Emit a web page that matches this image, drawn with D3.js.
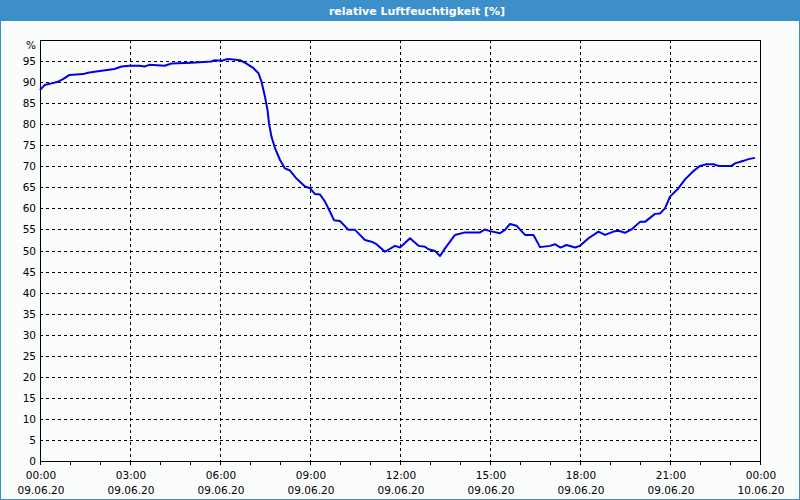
<!DOCTYPE html>
<html>
<head>
<meta charset="utf-8">
<script src="https://cdn.jsdelivr.net/npm/d3@7"></script>
<style>
  html, body { margin: 0; padding: 0; background: #fbfdfc; }
  svg { display: block; }
  text { font-family: "DejaVu Sans", Verdana, sans-serif; }
</style>
</head>
<body>
<svg id="chart" width="800" height="500"></svg>
<script>
// ---- data ----
const chartTitle = "relative Luftfeuchtigkeit [%]";
const unitLabel = "%";
const startDate = "2020-06-09T00:00";
const endDate = "2020-06-10T00:00";
// minutes after 09.06.20 00:00
const minutes = [0, 9, 23, 36, 46, 59, 86, 96, 116, 149, 163, 179, 199, 209, 219, 249, 263, 303, 343, 349,
  363, 376, 400, 413, 427, 437, 443, 450, 455, 458, 463, 470, 480, 490, 500, 513, 530, 540, 550, 560,
  570, 580, 588, 600, 617, 630, 650, 663, 673, 690, 710, 720, 740, 757, 770, 777, 790, 800, 810, 830,
  850, 880, 890, 900, 920, 930, 940, 953, 970, 987, 1000, 1020, 1030, 1041, 1053, 1070, 1080, 1097, 1117, 1130,
  1147, 1157, 1170, 1183, 1200, 1210, 1230, 1240, 1250, 1260, 1277, 1290, 1307, 1320, 1333, 1347, 1357, 1383, 1390, 1407,
  1417, 1430];
const humidity = [88.1, 89.3, 89.7, 90.1, 90.7, 91.7, 91.9, 92.2, 92.6, 93.1, 93.7, 93.9, 93.9, 93.7, 94.1, 93.9, 94.4, 94.6, 94.9, 95.2,
  95.1, 95.5, 95.2, 94.4, 93.3, 92.1, 90.1, 86.5, 83.4, 80.2, 77.0, 74.3, 71.5, 69.5, 69.0, 67.1, 65.2, 64.8, 63.4, 63.3,
  61.6, 59.2, 57.2, 57.0, 54.9, 54.9, 52.5, 52.1, 51.5, 49.7, 51.1, 50.7, 52.9, 51.1, 50.9, 50.3, 49.9, 48.7, 50.5, 53.7,
  54.3, 54.3, 55.0, 54.6, 54.1, 54.9, 56.3, 55.9, 53.7, 53.7, 50.8, 51.1, 51.5, 50.7, 51.3, 50.7, 51.1, 52.9, 54.5, 53.7,
  54.5, 54.7, 54.2, 55.0, 56.8, 56.8, 58.7, 58.8, 60.0, 62.8, 64.8, 66.9, 68.9, 70.1, 70.5, 70.5, 70.1, 70.1, 70.7, 71.3,
  71.7, 72.0];
const yTicks = [0, 5, 10, 15, 20, 25, 30, 35, 40, 45, 50, 55, 60, 65, 70, 75, 80, 85, 90, 95];

// ---- layout ----
const W = 800, H = 500;
const plot = { left: 40, right: 760, top: 40, bottom: 461 };
const svg = d3.select("#chart");

svg.append("rect").attr("x", 0).attr("y", 0).attr("width", W).attr("height", H).attr("fill", "#fbfdfc");
svg.append("rect").attr("x", 0.5).attr("y", 0.5).attr("width", W - 1).attr("height", H - 1)
  .attr("fill", "none").attr("stroke", "#3c8fc8").attr("stroke-width", 1);
svg.append("rect").attr("x", 0).attr("y", 0).attr("width", W).attr("height", 21).attr("fill", "#3c8fc8");
svg.append("text").attr("x", 417).attr("y", 15).attr("text-anchor", "middle")
  .attr("fill", "#ffffff").attr("font-size", "11px").attr("font-weight", "bold")
  .text(chartTitle);

const parse = d3.timeParse("%Y-%m-%dT%H:%M");
const t0 = parse(startDate), t1 = parse(endDate);
const x = d3.scaleTime().domain([t0, t1]).range([plot.left, plot.right]);
const y = d3.scaleLinear().domain([0, 100]).range([plot.bottom, plot.top]);

const data = minutes.map((m, i) => ({ t: d3.timeMinute.offset(t0, m), v: humidity[i] }));

// grid
const g = svg.append("g");
g.selectAll("line.hgrid").data(yTicks.filter(d => d > 0)).enter().append("line")
  .attr("x1", plot.left).attr("x2", plot.right)
  .attr("y1", d => Math.round(y(d)) + 0.5).attr("y2", d => Math.round(y(d)) + 0.5)
  .attr("stroke", "#000").attr("stroke-width", 1).attr("stroke-dasharray", "3,3");
const majorTicks = d3.timeHour.every(3).range(t0, d3.timeMinute.offset(t1, 1));
g.selectAll("line.vgrid").data(majorTicks.filter(d => +d !== +t0 && +d !== +t1)).enter().append("line")
  .attr("y1", plot.top).attr("y2", plot.bottom)
  .attr("x1", d => Math.round(x(d)) + 0.5).attr("x2", d => Math.round(x(d)) + 0.5)
  .attr("stroke", "#000").attr("stroke-width", 1).attr("stroke-dasharray", "3,3");

// hourly ticks
const hourTicks = d3.timeHour.every(1).range(t0, d3.timeMinute.offset(t1, 1));
g.selectAll("line.tick").data(hourTicks).enter().append("line")
  .attr("x1", d => Math.round(x(d)) + 0.5).attr("x2", d => Math.round(x(d)) + 0.5)
  .attr("y1", plot.bottom).attr("y2", plot.bottom + 4)
  .attr("stroke", "#000").attr("stroke-width", 1);

// frame
svg.append("rect").attr("x", plot.left + 0.5).attr("y", plot.top + 0.5)
  .attr("width", plot.right - plot.left).attr("height", plot.bottom - plot.top)
  .attr("fill", "none").attr("stroke", "#000").attr("stroke-width", 1);

// y labels
svg.selectAll("text.ylab").data(yTicks).enter().append("text")
  .attr("x", 36).attr("y", d => y(d) + 4).attr("text-anchor", "end")
  .attr("font-size", "10.5px").attr("fill", "#000").text(d => d);
svg.append("text").attr("x", 36).attr("y", 49).attr("text-anchor", "end")
  .attr("font-size", "10.5px").attr("fill", "#000").text(unitLabel);

// x labels
const fTime = d3.timeFormat("%H:%M"), fDate = d3.timeFormat("%d.%m.%y");
const xl = svg.selectAll("g.xlab").data(majorTicks).enter().append("g");
xl.append("text").attr("x", d => x(d) + 1).attr("y", 479).attr("text-anchor", "middle")
  .attr("font-size", "10.5px").attr("fill", "#000").text(d => fTime(d));
xl.append("text").attr("x", d => x(d) + 1).attr("y", 494).attr("text-anchor", "middle")
  .attr("font-size", "10.5px").attr("fill", "#000").text(d => fDate(d));

// line
const line = d3.line().x(d => x(d.t)).y(d => y(d.v));
svg.append("path").datum(data).attr("d", line)
  .attr("fill", "none").attr("stroke", "#0000e6").attr("stroke-width", 2)
  .attr("stroke-linejoin", "round");
</script>
</body>
</html>
